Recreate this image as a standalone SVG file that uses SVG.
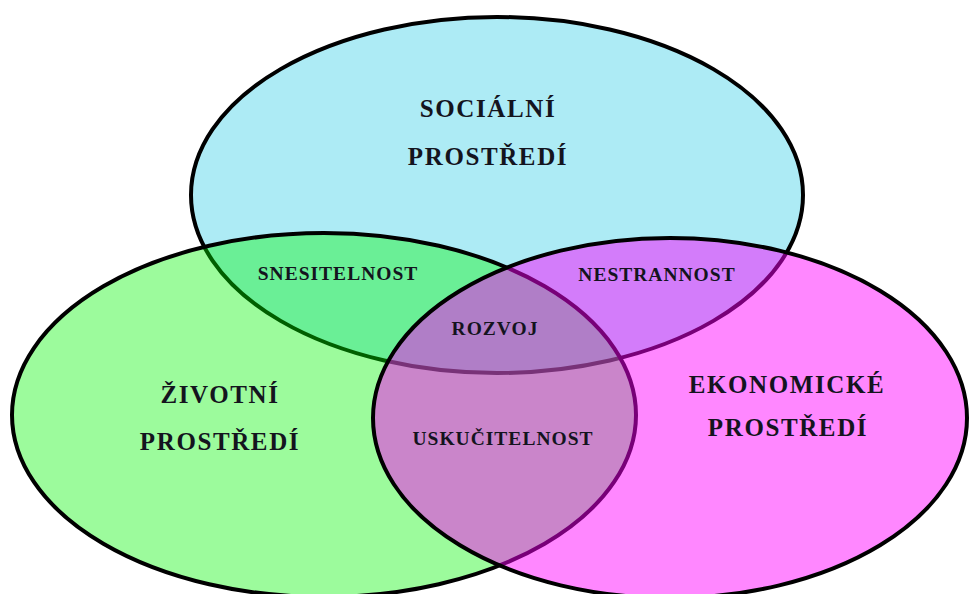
<svg xmlns="http://www.w3.org/2000/svg" width="972" height="594" viewBox="0 0 972 594">
<style>
.ring{stroke:#000;stroke-width:4}
.lbl{font-family:"Liberation Serif","Times New Roman",serif;font-weight:bold;fill:#14141e;text-anchor:middle}
.big{font-size:25px;letter-spacing:1.6px}
.small{font-size:19.5px;letter-spacing:1px}
</style>
<rect width="972" height="594" fill="#fff"/>
<g id="socialni">
<ellipse class="ring" cx="497" cy="195" rx="306" ry="178" fill="#ADEBF5"/>
<text class="lbl big" x="488" y="117">SOCIÁLNÍ</text>
<text class="lbl big" x="488" y="165">PROSTŘEDÍ</text>
</g>
<g id="zivotni">
<ellipse class="ring" cx="324" cy="415" rx="312" ry="182" fill="rgb(0,245,0)" fill-opacity="0.39"/>
<text class="lbl big" x="220" y="403">ŽIVOTNÍ</text>
<text class="lbl big" x="220" y="450">PROSTŘEDÍ</text>
</g>
<g id="ekonomicke">
<ellipse class="ring" cx="670" cy="418" rx="297" ry="180" fill="rgb(255,0,255)" fill-opacity="0.47"/>
<text class="lbl big" x="787" y="393">EKONOMICKÉ</text>
<text class="lbl big" x="788" y="436">PROSTŘEDÍ</text>
</g>
<g id="snesitelnost"><text class="lbl small" x="338" y="280">SNESITELNOST</text></g>
<g id="nestrannost"><text class="lbl small" x="657" y="281">NESTRANNOST</text></g>
<g id="rozvoj"><text class="lbl small" x="495" y="335">ROZVOJ</text></g>
<g id="uskucitelnost"><text class="lbl small" x="503" y="445">USKUČITELNOST</text></g>
</svg>
